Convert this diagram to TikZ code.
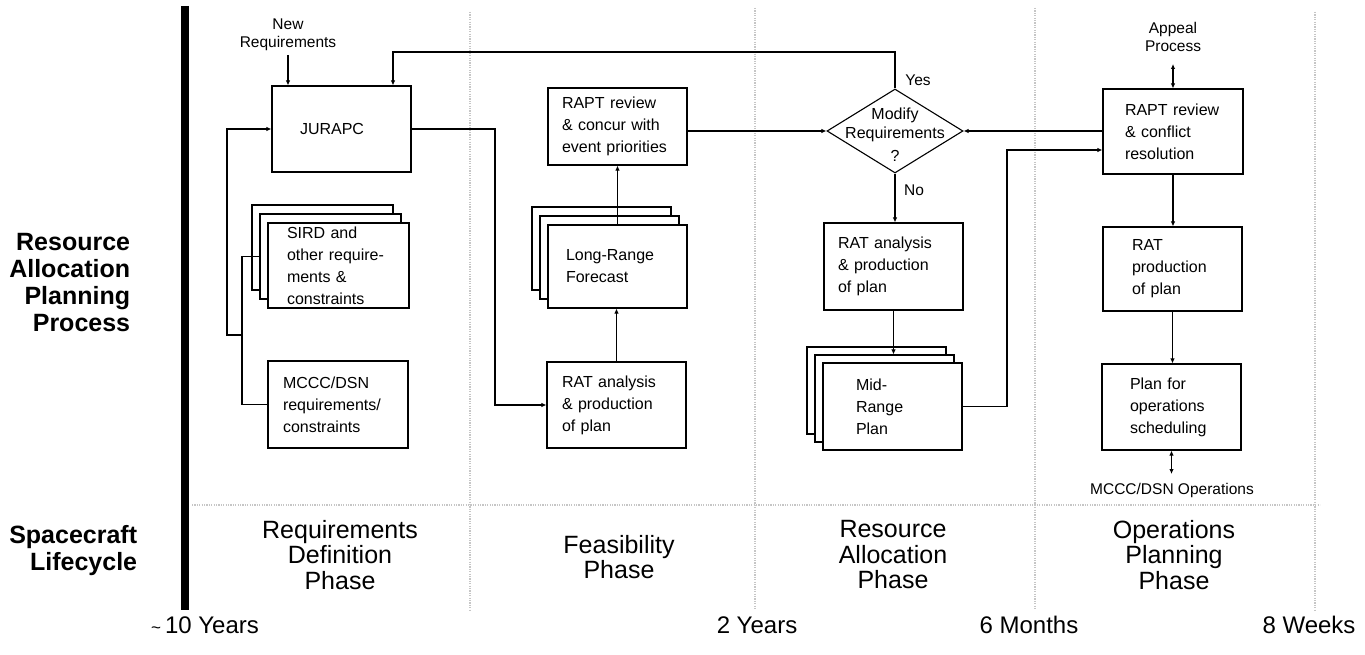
\documentclass[tikz,border=0pt]{standalone}
\usepackage{fontspec}
\setmainfont{Liberation Sans}
\usetikzlibrary{arrows.meta,shapes.geometric,calc}
\begin{document}
\begin{tikzpicture}[x=1pt,y=-1pt,
  line width=1.1pt,
  arr/.style={-{Latex[length=5pt,width=4.5pt]}},
  darr/.style={{Latex[length=5pt,width=4.5pt]}-{Latex[length=5pt,width=4.5pt]}},
  box/.style={draw, fill=white, rectangle, font=\fontsize{16}{22}\selectfont, align=left, inner ysep=0pt},
  blank/.style={draw, fill=white, rectangle, inner sep=0pt},
  gridline/.style={draw=gray!45, line width=2.2pt, dash pattern=on 1.2pt off 1.2pt},
  side/.style={font=\fontsize{25}{27}\selectfont\bfseries, align=right, anchor=east},
  phase/.style={font=\fontsize{25}{25.5}\selectfont, align=center},
  timelbl/.style={font=\fontsize{24}{24}\selectfont},
  small/.style={font=\fontsize{15.5}{18}\selectfont, align=center},
]
\useasboundingbox (0,0) rectangle (1365,655);
\fill[white] (0,0) rectangle (1365,655);

% grid
\draw[gridline] (470,12) -- (470,610);
\draw[gridline] (755,8) -- (755,610);
\draw[gridline] (1035,8) -- (1035,610);
\draw[gridline] (1315,12) -- (1315,610);
\draw[gridline] (192,505) -- (1320,505);

% bar
\draw[line width=8pt] (185,6) -- (185,610);

% side labels
\node[side] (rapp) at (134,283) {Resource\\Allocation\\Planning\\Process};
\node[side] (slc) at (141,551) {Spacecraft\\Lifecycle};

% phase labels
\node[phase] (ph1) at (340,555) {Requirements\\Definition\\Phase};
\node[phase] (ph2) at (619,557) {Feasibility\\Phase};
\node[phase] (ph3) at (893,555) {Resource\\Allocation\\Phase};
\node[phase] (ph4) at (1174,555) {Operations\\Planning\\Phase};

% time labels
\node[timelbl] (t1) at (205,625) {{\fontsize{17}{17}\selectfont\textasciitilde}\,10 Years};
\node[timelbl] (t2) at (757,625) {2 Years};
\node[timelbl] (t3) at (1029,625) {6 Months};
\node[timelbl] (t4) at (1309,625) {8 Weeks};

% column 1
\node[box, minimum width=139pt, minimum height=86pt, inner xsep=28pt, text width=83pt] (jurapc) at (341.5,129) {JURAPC};
\node[blank, minimum width=141pt, minimum height=85pt] (sirdb) at (322.5,247.5) {};
\node[blank, minimum width=141pt, minimum height=85pt] (sirdm) at (330.5,256.5) {};
\node[box, minimum width=141pt, minimum height=85pt, inner xsep=19pt, text width=103pt] (sird) at (338.5,265.5) {SIRD and\\other require-\\ments \&\\constraints};
\node[box, minimum width=140pt, minimum height=87pt, inner xsep=15pt, text width=110pt] (mccc) at (338,404.5) {MCCC/DSN\\requirements/\\constraints};

% column 2
\node[box, minimum width=139pt, minimum height=77pt, inner xsep=14pt, text width=111pt] (rapt1) at (617.5,126.5) {RAPT review\\\& concur with\\event priorities};
\node[blank, minimum width=139pt, minimum height=83pt] (lrfb) at (601.5,248.5) {};
\node[blank, minimum width=139pt, minimum height=83pt] (lrfm) at (609.5,257.5) {};
\node[box, minimum width=139pt, minimum height=83pt, inner xsep=18pt, text width=103pt] (lrf) at (617.5,266.5) {Long-Range\\Forecast};
\node[box, minimum width=139pt, minimum height=86pt, inner xsep=15pt, text width=109pt] (rat1) at (616.5,405) {RAT analysis\\\& production\\of plan};

% column 3
\node[draw, fill=white, diamond, minimum width=136pt, minimum height=84pt, inner sep=0pt] (dia) at (895,131) {};
\node[small, font=\fontsize{16}{18.5}\selectfont] (diatxt) at (895,135) {Modify\\Requirements\\[5pt]?};
\node[small] (yes) at (918,80) {Yes};
\node[small] (no) at (914,190) {No};
\node[box, minimum width=139pt, minimum height=87pt, inner xsep=14pt, text width=111pt] (rat2) at (893.5,266.5) {RAT analysis\\\& production\\of plan};
\node[blank, minimum width=139pt, minimum height=87pt] (mrpb) at (876.5,390.5) {};
\node[blank, minimum width=139pt, minimum height=87pt] (mrpm) at (884.5,398.5) {};
\node[box, minimum width=139pt, minimum height=87pt, inner xsep=33pt, text width=73pt] (mrp) at (892.5,406.5) {Mid-\\Range\\Plan};

% column 4
\node[box, minimum width=140pt, minimum height=85pt, inner xsep=22pt, text width=96pt] (rapt2) at (1173,131.5) {RAPT review\\\& conflict\\resolution};
\node[box, minimum width=139pt, minimum height=84pt, inner xsep=29pt, text width=81pt] (ratp) at (1172.5,269) {RAT\\production\\of plan};
\node[box, minimum width=139pt, minimum height=86pt, inner xsep=28pt, text width=83pt] (plan) at (1171.5,407) {Plan for\\operations\\scheduling};

% small labels
\node[small] (newreq) at (288,35) {New\\Requirements};
\node[small] (appeal) at (1173,37) {Appeal\\Process};
\node[small] (ops) at (1172,490) {MCCC/DSN Operations};

% coordinates
\coordinate (fb) at (393,52);
\coordinate (lj) at (242,335);
\coordinate (ll) at (227,335);
\coordinate (jr) at (495,129);
\coordinate (mr) at (1007,150);
\coordinate (apb) at (1173,64);
\coordinate (opt) at (1171.5,474);

% connectors
\draw[arr] (newreq.south) -- (newreq.south |- jurapc.north);
\draw[arr] (dia.north) |- (fb) -- (fb |- jurapc.north);
\draw (sirdm.west) -| (lj) |- (mccc.west);
\draw[arr] (lj) -- (ll) |- (jurapc.west);
\draw[arr] (jurapc.east) -- (jr) |- (rat1.west);
\draw[arr] (rat1.north) -- (rat1.north |- lrf.south);
\draw[arr] (lrf.north) -- (lrf.north |- rapt1.south);
\draw[arr] (rapt1.east |- dia.west) -- (dia.west);
\draw[arr] (dia.south) -- (dia.south |- rat2.north);
\draw[arr] (rat2.south) -- (rat2.south |- mrpm.north);
\draw[arr] (mrp.east) -| (mr) -- (mr -| rapt2.west);
\draw[arr] (rapt2.west |- dia.east) -- (dia.east);
\draw[arr] (rapt2.south) -- (rapt2.south |- ratp.north);
\draw[arr] (ratp.south) -- (ratp.south |- plan.north);
\draw[darr] (apb) -- (apb |- rapt2.north);
\draw[darr] (plan.south) -- (opt);
\end{tikzpicture}
\end{document}
